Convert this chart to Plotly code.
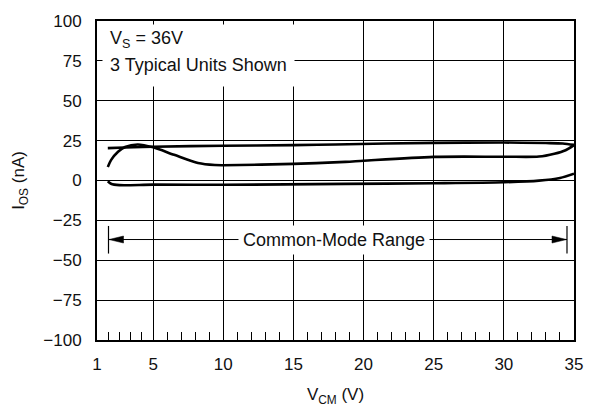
import plotly.graph_objects as go

# ---- data ----
unit1_x = [1.77, 3.0, 5.0, 10.0, 15.0, 18.0, 25.0, 30.0, 33.0, 34.2, 35.0]
unit1_y = [20.3, 20.7, 21.2, 21.8, 22.2, 22.6, 23.6, 23.8, 23.5, 23.2, 22.3]

unit2_x = [1.77, 2.0, 2.5, 3.0, 3.9, 5.0, 6.5, 8.2, 9.4, 10.0, 15.0, 18.7, 20.0, 25.0, 30.0, 32.5, 33.6, 34.4, 35.0]
unit2_y = [8.5, 12.8, 18.0, 21.0, 22.6, 20.8, 16.1, 11.0, 9.7, 9.6, 10.4, 11.7, 12.4, 14.8, 14.9, 15.0, 16.8, 19.0, 22.2]

unit3_x = [1.77, 2.0, 2.6, 5.0, 10.0, 18.7, 25.0, 30.0, 32.5, 34.0, 35.0]
unit3_y = [-0.5, -2.0, -2.9, -2.6, -2.7, -2.1, -1.7, -1.1, -0.1, 1.6, 4.3]

x_ticks = [1, 5, 10, 15, 20, 25, 30, 35]
x_minor = [1.8, 2.6, 3.4, 4.2, 6, 7, 8, 9, 11, 12, 13, 14, 16, 17, 18, 19,
           21, 22, 23, 24, 26, 27, 28, 29, 31, 32, 33, 34]
y_ticks = [-100, -75, -50, -25, 0, 25, 50, 75, 100]

cm_range = [1.82, 34.5]   # common-mode range limits (V)
cm_level = -37            # vertical placement of the range marker (nA)

FONT = "Liberation Sans, Arial, Helvetica, sans-serif"

fig = go.Figure()
for xs, ys in [(unit1_x, unit1_y), (unit2_x, unit2_y), (unit3_x, unit3_y)]:
    fig.add_trace(go.Scatter(x=xs, y=ys, mode="lines",
                             line=dict(color="black", width=2.6, shape="spline", smoothing=0.8),
                             showlegend=False, hoverinfo="skip"))

shapes = []
# common-mode range line and end bars
shapes.append(dict(type="line", xref="x", yref="y", x0=cm_range[0], x1=cm_range[1],
                   y0=cm_level, y1=cm_level, line=dict(color="black", width=1), layer="above"))
for xv in cm_range:
    shapes.append(dict(type="line", xref="x", yref="y", x0=xv, x1=xv,
                       y0=cm_level + 8.5, y1=cm_level - 8.8,
                       line=dict(color="black", width=1.2), layer="above"))
# arrowheads (pixel-sized paths anchored at the range ends)
shapes.append(dict(type="path", xsizemode="pixel", ysizemode="pixel",
                   xanchor=cm_range[0], yanchor=cm_level, xref="x", yref="y",
                   path="M0.5,0 L15,3.5 L15,-3.5 Z", fillcolor="black",
                   line=dict(color="black", width=0.5), layer="above"))
shapes.append(dict(type="path", xsizemode="pixel", ysizemode="pixel",
                   xanchor=cm_range[1], yanchor=cm_level, xref="x", yref="y",
                   path="M-0.5,0 L-15,3.5 L-15,-3.5 Z", fillcolor="black",
                   line=dict(color="black", width=0.5), layer="above"))

annotations = [
    # white box behind the condition text (covers the grid)
    dict(x=1.33, y=98.3, xref="x", yref="y", text="", showarrow=False,
         xanchor="left", yanchor="top", width=191, height=61, bgcolor="white", borderpad=0),
    dict(x=1.76, y=88.5, xref="x", yref="y", text="V<sub>S</sub> = 36V", showarrow=False,
         xanchor="left", yanchor="middle", font=dict(family=FONT, size=18, color="#111")),
    dict(x=1.76, y=72.5, xref="x", yref="y", text="3 Typical Units Shown", showarrow=False,
         xanchor="left", yanchor="middle", font=dict(family=FONT, size=18, color="#111")),
    dict(x=17.86, y=cm_level, xref="x", yref="y", text="Common-Mode Range", showarrow=False,
         xanchor="center", yanchor="middle", bgcolor="white", borderpad=4,
         font=dict(family=FONT, size=18, color="#111")),
]

fig.update_layout(
    width=595, height=413,
    margin=dict(l=97, r=12, t=12, b=72),
    paper_bgcolor="white", plot_bgcolor="white",
    font=dict(family=FONT, size=17, color="#111"),
    shapes=shapes, annotations=annotations,
    xaxis=dict(range=[1, 35], tickmode="array", tickvals=x_ticks,
               showgrid=True, gridcolor="black", gridwidth=1,
               showline=True, linecolor="black", linewidth=2, mirror=True,
               ticks="", ticklabelstandoff=8, zeroline=False,
               minor=dict(tickmode="array", tickvals=x_minor, ticks="inside",
                          ticklen=8, tickcolor="black", tickwidth=1, showgrid=False),
               title=dict(text="V<sub>CM</sub> (V)", standoff=15,
                          font=dict(family=FONT, size=17))),
    yaxis=dict(range=[-100, 100], tickmode="array", tickvals=y_ticks,
               showgrid=True, gridcolor="black", gridwidth=1,
               showline=True, linecolor="black", linewidth=2, mirror=True,
               ticks="inside", ticklen=4, tickcolor="black", ticklabelstandoff=10,
               zeroline=False,
               title=dict(text="I<sub>OS</sub> (nA)", standoff=14,
                          font=dict(family=FONT, size=17))),
)

fig.write_html("out.html")
